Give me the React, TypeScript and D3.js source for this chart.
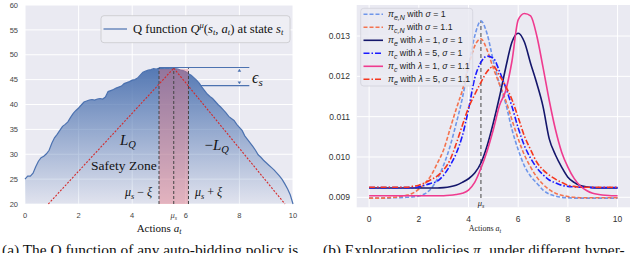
import React from 'react';
import * as d3 from 'd3';

// ---- left panel: Q function sampled on actions 0..10 (step 0.1)
const qValues = [
  25.0, 25.6, 25.6, 26.2, 27.5, 28.6, 29.3, 29.6, 30.1, 30.8,
  32.2, 33.3, 34.0, 34.8, 35.6, 36.0, 36.5, 37.4, 38.2, 38.8,
  39.3, 39.9, 40.5, 40.7, 40.9, 41.0, 40.9, 41.1, 41.2, 41.1,
  41.5, 42.6, 42.8, 43.0, 43.3, 43.5, 43.7, 44.2, 44.4, 44.6,
  44.9, 45.0, 45.3, 45.9, 46.5, 46.7, 46.9, 47.0, 47.2, 47.1,
  47.3, 47.2, 47.3, 47.4, 47.3, 47.4, 47.2, 47.1, 46.9, 46.8,
  46.6, 46.2, 45.9, 45.4, 44.9, 44.3, 43.5, 42.8, 42.1, 41.6,
  41.2, 40.6, 40.0, 39.5, 38.9, 38.3, 37.6, 37.2, 36.8, 36.0,
  35.4, 34.8, 33.7, 33.0, 32.3, 31.6, 30.8, 29.9, 29.4, 28.8,
  28.3, 27.8, 27.3, 26.8, 26.2, 25.6, 24.9, 24.0, 23.0, 21.8,
  20.0,
];
const qActions = qValues.map((_, i) => i / 10);

const muS = 5.55;
const xi = 0.55;
const qPeak = 47.3;
const qEpsLow = 43.8;
const lipLeft: [number, number][] = [[0.87, 20], [muS, qPeak]];
const lipRight: [number, number][] = [[muS, qPeak], [9.7, 20]];
const qYTicks = [20, 25, 30, 35, 40, 45, 50, 55, 60];
const qXTicks = [0, 2, 4, 6, 8, 10];

// ---- right panel: exploration policies on actions 0..10 (step 0.25)
const policyActions = [
  0, 0.25, 0.5, 0.75, 1, 1.25, 1.5, 1.75, 2, 2.25, 2.5, 2.75, 3, 3.25, 3.5, 3.75,
  4, 4.25, 4.5, 4.75, 5, 5.25, 5.5, 5.75, 6, 6.25, 6.5, 6.75, 7, 7.25, 7.5, 7.75,
  8, 8.25, 8.5, 8.75, 9, 9.25, 9.5, 9.75, 10,
];
const piEN = [
  0.00898, 0.00898, 0.00898, 0.00898, 0.00899, 0.00899, 0.009, 0.00901, 0.00903, 0.00909,
  0.00922, 0.00946, 0.0098, 0.01025, 0.01082, 0.01145, 0.01225, 0.013, 0.013375, 0.01305,
  0.01238, 0.0118, 0.01132, 0.01068, 0.01018, 0.00978, 0.00952, 0.00935, 0.00918, 0.00908,
  0.00903, 0.009, 0.00899, 0.00898, 0.00898, 0.00898, 0.00898, 0.00898, 0.00898, 0.00898, 0.00898,
];
const piCN = [
  0.00898, 0.00898, 0.00898, 0.00899, 0.009, 0.00902, 0.00905, 0.0091, 0.0092, 0.00935,
  0.00955, 0.00985, 0.01018, 0.01068, 0.01118, 0.01165, 0.01225, 0.01275, 0.01293, 0.01265,
  0.0122, 0.0118, 0.0114, 0.01092, 0.01045, 0.01005, 0.00975, 0.0095, 0.00932, 0.00919,
  0.0091, 0.00905, 0.00902, 0.009, 0.00899, 0.00899, 0.00899, 0.00899, 0.00899, 0.00899, 0.00899,
];
const piE1 = [
  0.00923, 0.00923, 0.00923, 0.00923, 0.00923, 0.00923, 0.00923, 0.00923, 0.00923, 0.00923,
  0.00923, 0.00923, 0.00924, 0.00926, 0.0093, 0.00937, 0.00946, 0.0096, 0.00985, 0.01028,
  0.01085, 0.0115, 0.01222, 0.01285, 0.01307, 0.01285, 0.01232, 0.01182, 0.01125, 0.01045,
  0.01005, 0.00975, 0.0095, 0.00937, 0.00929, 0.00926, 0.00924, 0.00923, 0.00923, 0.00923, 0.00923,
];
const piC5 = [
  0.00924, 0.00924, 0.00924, 0.00924, 0.00924, 0.00924, 0.00924, 0.00924, 0.00926, 0.0093,
  0.00935, 0.0094, 0.00955, 0.00978, 0.01008, 0.01052, 0.01118, 0.01195, 0.01235, 0.0125,
  0.01245, 0.01212, 0.01172, 0.01125, 0.01072, 0.01028, 0.00997, 0.00973, 0.00956, 0.00943,
  0.00936, 0.0093, 0.00927, 0.00926, 0.00925, 0.00925, 0.00924, 0.00924, 0.00924, 0.00924, 0.00924,
];
const piC1 = [
  0.00904, 0.00904, 0.00904, 0.00904, 0.00904, 0.00904, 0.00904, 0.00904, 0.00904, 0.00904,
  0.00904, 0.00904, 0.00904, 0.00905, 0.00907, 0.0091, 0.00918, 0.00937, 0.00972, 0.01015,
  0.01068, 0.01128, 0.01165, 0.01238, 0.0134, 0.01356, 0.0135, 0.013, 0.01222, 0.0114,
  0.01068, 0.01012, 0.00975, 0.00947, 0.00928, 0.00917, 0.0091, 0.00907, 0.00905, 0.00904, 0.00904,
];
const piE5 = [
  0.00925, 0.00925, 0.00925, 0.00925, 0.00925, 0.00925, 0.00925, 0.00927, 0.0093, 0.00936,
  0.00944, 0.00953, 0.00968, 0.00992, 0.01032, 0.01078, 0.01122, 0.01155, 0.01185, 0.01212,
  0.01224, 0.01202, 0.01175, 0.01142, 0.01098, 0.01052, 0.01018, 0.00987, 0.00968, 0.00955,
  0.00945, 0.00937, 0.0093, 0.00927, 0.00925, 0.00925, 0.00925, 0.00925, 0.00925, 0.00925, 0.00925,
];
const policyLabels = [
  'π_{e,N} with σ = 1',
  'π_{c,N} with σ = 1.1',
  'π_e with λ = 1, σ = 1',
  'π_c with λ = 5, σ = 1',
  'π_c with λ = 1, σ = 1.1',
  'π_e with λ = 5, σ = 1.1',
];
const policySeries = [piEN, piCN, piE1, piC5, piC1, piE5];
const policyColors = ['#6f96ea', '#f4734f', '#14166b', '#1a1aff', '#ef3b8f', '#f5371e'];
const policyDash = ['4,2', '4,2', null, '6,2,1.5,2', null, '6,2,1.5,2'];
const policyMuS = 4.5;
const policyYTicks = [0.009, 0.01, 0.011, 0.012, 0.013];
const policyXTicks = [0, 2, 4, 6, 8, 10];

const SANS = '"Liberation Sans", Arial, sans-serif';
const SERIF = '"Liberation Serif", "Times New Roman", serif';
const BG = '#EAEAF2';

// turns "π_{e,N} with σ = 1" into tspans (greek italic, subscripts)
function mathText(s: string, size: number, subScale = 0.7) {
  const parts = s.split(/(_\{[^}]*\}|_[a-zA-Z]|[πσλμξ])/).filter((p) => p !== '');
  const out: React.ReactNode[] = [];
  let shifted = false;
  parts.forEach((p, k) => {
    if (p.startsWith('_')) {
      const t = p.startsWith('_{') ? p.slice(2, -1) : p.slice(1);
      out.push(
        <tspan key={k} fontStyle="italic" fontSize={size * subScale} dy={size * 0.25}>{t}</tspan>
      );
      shifted = true;
    } else {
      const greek = /^[πσλμξ]$/.test(p);
      out.push(
        <tspan key={k} fontStyle={greek ? 'italic' : 'normal'} dy={shifted ? -size * 0.25 : 0}>{p}</tspan>
      );
      shifted = false;
    }
  });
  return out;
}

function QPanel() {
  const x = d3.scaleLinear().domain([0, 10]).range([25, 293]);
  const y = d3.scaleLinear().domain([20, 60]).range([204, 5]);
  const area = d3.area<number>()
    .x((_, i) => x(qActions[i]))
    .y0(y(20))
    .y1((d) => y(d));
  const line = d3.line<number>()
    .x((_, i) => x(qActions[i]))
    .y((d) => y(d));
  const seg = d3.line<[number, number]>().x((d) => x(d[0])).y((d) => y(d[1]));
  const arrowX = x(8);

  return (
    <g>
      <defs>
        <linearGradient id="qfill" gradientUnits="userSpaceOnUse" x1="0" x2="0" y1={y(47.4)} y2={y(20)}>
          <stop offset="0" stopColor="#4C72B0" stopOpacity={0.95} />
          <stop offset="1" stopColor="#4C72B0" stopOpacity={0.06} />
        </linearGradient>
      </defs>
      <rect x={x(0)} y={y(60)} width={x(10) - x(0)} height={y(20) - y(60)} fill={BG} />
      {qYTicks.map((t) => (
        <line key={t} x1={x(0)} x2={x(10)} y1={y(t)} y2={y(t)} stroke="#fff" strokeWidth={1} />
      ))}
      {qXTicks.map((t) => (
        <line key={t} x1={x(t)} x2={x(t)} y1={y(20)} y2={y(60)} stroke="#fff" strokeWidth={1} />
      ))}
      <path d={area(qValues) ?? ''} fill="url(#qfill)" />
      <path d={line(qValues) ?? ''} fill="none" stroke="#4C72B0" strokeWidth={1.2} />
      <rect x={x(muS - xi)} y={y(47.1)} width={x(muS + xi) - x(muS - xi)} height={y(20) - y(47.1)}
        fill="#e8737e" fillOpacity={0.42} />
      {[muS - xi, muS, muS + xi].map((v) => (
        <line key={v} x1={x(v)} x2={x(v)} y1={y(20)} y2={y(qPeak)} stroke="#444" strokeWidth={1}
          strokeDasharray="3,2" />
      ))}
      <path d={seg(lipLeft) ?? ''} stroke="#d42a2a" strokeWidth={1.1} strokeDasharray="2,1.5" fill="none" />
      <path d={seg(lipRight) ?? ''} stroke="#d42a2a" strokeWidth={1.1} strokeDasharray="2,1.5" fill="none" />
      <line x1={x(muS - xi)} x2={x(8.37)} y1={y(47.45)} y2={y(47.45)} stroke="#4C72B0" strokeWidth={1.1} />
      <line x1={x(6.55)} x2={x(8.37)} y1={y(qEpsLow)} y2={y(qEpsLow)} stroke="#4C72B0" strokeWidth={1.1} />
      <path d={`M${arrowX - 1.8},${y(47.45) + 4.2} L${arrowX + 1.8},${y(47.45) + 4.2} L${arrowX},${y(47.45) + 1.4} Z`} fill="#4C72B0" />
      <path d={`M${arrowX - 1.8},${y(qEpsLow) - 4.2} L${arrowX + 1.8},${y(qEpsLow) - 4.2} L${arrowX},${y(qEpsLow) - 1.4} Z`} fill="#4C72B0" />

      {/* annotations */}
      <g fontFamily={SERIF} fill="#111">
        <text x={x(8.47)} y={y(44.4)} fontSize={16} fontStyle="italic">ϵ<tspan fontSize={11} dy={3}>s</tspan></text>
        <text x={x(3.84)} y={y(31.9)} fontSize={15} textAnchor="middle" fontStyle="italic">L<tspan fontSize={10.5} dy={3}>Q</tspan></text>
        <text x={x(7.15)} y={y(30.9)} fontSize={15} textAnchor="middle"><tspan>−</tspan><tspan fontStyle="italic">L</tspan><tspan fontStyle="italic" fontSize={10.5} dy={3}>Q</tspan></text>
        <text x={x(3.69)} y={y(26.9)} fontSize={13.5} textAnchor="middle">Safety Zone</text>
        <text x={x(4.24)} y={y(21.6)} fontSize={12} textAnchor="middle">{mathText('μ_s − ξ', 12)}</text>
        <text x={x(6.85)} y={y(21.6)} fontSize={12} textAnchor="middle">{mathText('μ_s + ξ', 12)}</text>
      </g>

      {/* legend */}
      <rect x={101} y={15.7} width={189} height={27} rx={3} fill="#EEEEF4" stroke="#c8c8cc" strokeWidth={0.8} />
      <line x1={103.5} x2={127} y1={29} y2={29} stroke="#4C72B0" strokeWidth={1.2} />
      <text x={133} y={33.2} fontFamily={SERIF} fontSize={12.6} fill="#111">
        <tspan>Q function </tspan>
        <tspan fontStyle="italic">Q</tspan>
        <tspan fontStyle="italic" fontSize={8.5} dy={-5}>μ</tspan>
        <tspan dy={5}>(</tspan>
        <tspan fontStyle="italic">s</tspan>
        <tspan fontStyle="italic" fontSize={8.5} dy={2}>t</tspan>
        <tspan dy={-2}>, </tspan>
        <tspan fontStyle="italic">a</tspan>
        <tspan fontStyle="italic" fontSize={8.5} dy={2}>t</tspan>
        <tspan dy={-2}>) at state </tspan>
        <tspan fontStyle="italic">s</tspan>
        <tspan fontStyle="italic" fontSize={8.5} dy={2}>t</tspan>
      </text>

      {/* axes labels */}
      <g fontFamily={SANS} fontSize={7.5} fill="#444">
        {qYTicks.map((t) => (
          <text key={t} x={18} y={y(t) + 2.7} textAnchor="end">{t}</text>
        ))}
        {qXTicks.map((t) => (
          <text key={t} x={x(t)} y={217.7} textAnchor="middle">{t}</text>
        ))}
        <text x={x(muS)} y={217.7} textAnchor="middle" fontFamily={SERIF} fontSize={8.5}>{mathText('μ_s', 8.5)}</text>
      </g>
      <text x={x(5)} y={232} fontFamily={SERIF} fontSize={11} textAnchor="middle" fill="#111">
        Actions <tspan fontStyle="italic">a</tspan><tspan fontStyle="italic" fontSize={8} dy={2}>t</tspan>
      </text>
    </g>
  );
}

function PolicyPanel() {
  const x = d3.scaleLinear().domain([-0.5, 10.5]).range([356.7, 630]);
  const y = d3.scaleLinear().domain([0.008752, 0.013769]).range([207.3, 5]);
  const line = d3.line<number>()
    .x((_, i) => x(policyActions[i]))
    .y((d) => y(d))
    .curve(d3.curveMonotoneX);

  return (
    <g>
      <rect x={x(-0.5)} y={y(0.013769)} width={x(10.5) - x(-0.5)} height={y(0.008752) - y(0.013769)} fill={BG} />
      {policyYTicks.map((t) => (
        <line key={t} x1={x(-0.5)} x2={x(10.5)} y1={y(t)} y2={y(t)} stroke="#fff" strokeWidth={1} />
      ))}
      {policyXTicks.map((t) => (
        <line key={t} x1={x(t)} x2={x(t)} y1={y(0.008752)} y2={y(0.013769)} stroke="#fff" strokeWidth={1} />
      ))}
      <line x1={x(policyMuS)} x2={x(policyMuS)} y1={y(0.00898)} y2={y(0.013375)} stroke="#555"
        strokeWidth={1.1} strokeDasharray="4,3" />
      {policySeries.map((s, k) => (
        <path key={k} d={line(s) ?? ''} fill="none" stroke={policyColors[k]} strokeWidth={1.6}
          strokeDasharray={policyDash[k] ?? undefined} />
      ))}
      <text x={x(policyMuS)} y={206} fontFamily={SERIF} fontSize={8.5} textAnchor="middle" fill="#222">
        {mathText('μ_s', 8.5)}
      </text>

      {/* legend */}
      <rect x={360.7} y={8.3} width={112} height={77.7} rx={3} fill={BG} fillOpacity={0.85} stroke="#d2d2da" strokeWidth={0.8} />
      {policyLabels.map((lab, k) => {
        const ry = 14.3 + k * 13;
        return (
          <g key={k}>
            <line x1={363.5} x2={383} y1={ry} y2={ry} stroke={policyColors[k]} strokeWidth={1.6}
              strokeDasharray={policyDash[k] ?? undefined} />
            <text x={388} y={ry + 3} fontFamily={SANS} fontSize={8.8} fill="#222">{mathText(lab, 8.8, 0.8)}</text>
          </g>
        );
      })}

      <g fontFamily={SANS} fontSize={8.5} fill="#333">
        {policyYTicks.map((t) => (
          <text key={t} x={350} y={y(t) + 3} textAnchor="end">{d3.format('.3f')(t)}</text>
        ))}
        {policyXTicks.map((t) => (
          <text key={t} x={x(t)} y={221.5} textAnchor="middle">{t}</text>
        ))}
      </g>
      <text x={485} y={231} fontFamily={SERIF} fontSize={8} textAnchor="middle" fill="#222">
        Actions <tspan fontStyle="italic">a</tspan><tspan fontStyle="italic" fontSize={6} dy={1.5}>t</tspan>
      </text>
    </g>
  );
}

export default function App() {
  return (
    <svg width={640} height={253} style={{ position: 'absolute', left: 0, top: 0, background: '#fff' }}>
      <QPanel />
      <PolicyPanel />
      <text x={2} y={254.5} fontFamily={SERIF} fontSize={15.4} fill="#111">
        (a) The Q function of any auto-bidding policy is
      </text>
      <text x={323} y={254.5} fontFamily={SERIF} fontSize={15.4} fill="#111">
        (b) Exploration policies <tspan fontStyle="italic">π</tspan>
        <tspan fontStyle="italic" fontSize={10.5} dy={3}>e</tspan>
        <tspan dy={-3}> under different hyper-</tspan>
      </text>
    </svg>
  );
}
